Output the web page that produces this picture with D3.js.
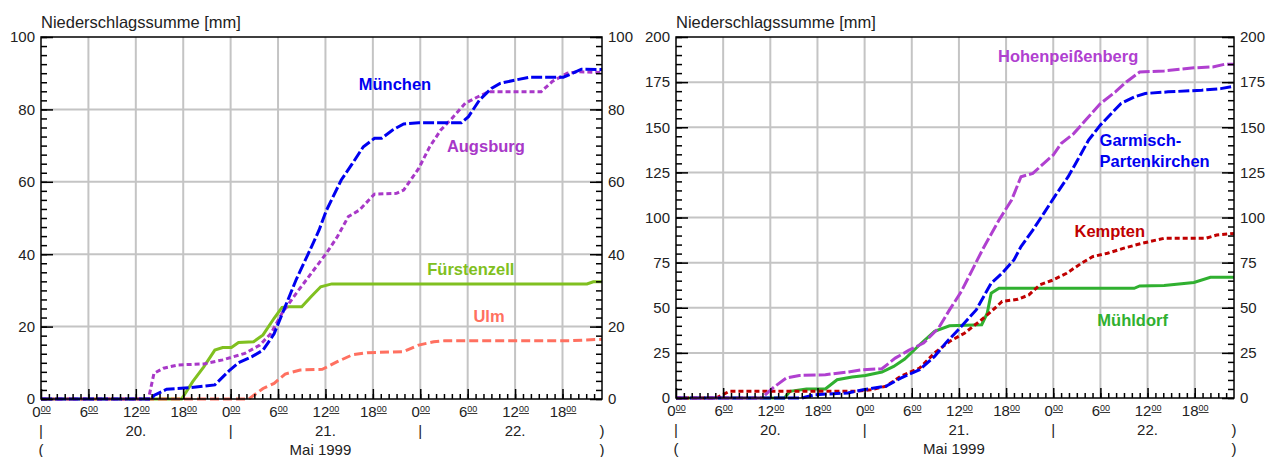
<!DOCTYPE html>
<html>
<head>
<meta charset="utf-8">
<script src="https://cdn.jsdelivr.net/npm/d3@7"></script>
<style>
  body { margin: 0; background: #fff; }
  text { font-family: "Liberation Sans", Arial, sans-serif; }
</style>
</head>
<body>
<script>
// Hours since 20 May 1999 00:00, cumulative precipitation in mm
var muenchen = [[0,0],[14,0],[14.3,1],[15.9,2.7],[18.7,3.1],[22,3.9],[23.9,8],[25,10],[26.7,11.7],[28.1,13.5],[29.5,18],
  [30.9,25.5],[32.3,33],[33.8,40],[35.2,46.7],[36.1,52],[38,60.5],[39.4,65],[40.8,69.7],[42.2,72],[43.1,72],[44.5,74.3],
  [45.9,76],[47.8,76.3],[53.2,76.3],[54.1,78],[55.5,82.6],[57,85.8],[58.1,87.2],[60,88.1],[61.9,88.9],[66.1,88.9],
  [67.3,90],[68.4,91.1],[71,91]];
var augsburg = [[0,0],[13.6,0],[14.3,7.1],[15.5,8.5],[17.3,9.4],[20.6,9.7],[23,10.8],[25.8,12.6],[27.7,14.9],[29.1,18.1],
  [30.5,23.7],[32.3,29.2],[34.2,34.7],[36.1,40.2],[37.5,44.8],[38.9,50.4],[40.3,52.2],[42.2,56.6],[45,56.8],[45.9,57.7],
  [47.8,63.7],[49.2,69.7],[50.6,74.3],[52,77.5],[53.7,81.7],[55.3,83.5],[56.7,84.9],[63.3,84.9],[64.7,87.7],[66.6,90],
  [68,90.4],[71,90.2]];
var fuerstenzell = [[0,0],[17.8,0],[19.2,4.8],[20.6,8.9],[22,13.5],[23,14.2],[24.1,14.2],[25,15.6],[26.9,15.8],[28.1,17.7],
  [29.5,22.3],[30.5,25.3],[31.4,25.5],[33,25.5],[34.2,28.3],[35.4,31],[36.8,31.8],[69.1,31.8],[69.9,32.4],[71,32.4]];
var ulm = [[0,0],[26.3,0],[28.1,2.9],[29.5,4.3],[30.9,6.9],[32.8,8],[35.6,8.2],[37.5,10.3],[39.4,12.2],[41.3,12.8],
  [45.9,13.1],[47.8,14.9],[49.7,15.8],[51.1,16.1],[67,16.1],[71,16.5]];

var hohenpeissenberg = [[0,0],[10.9,0],[12.3,5.5],[14,11],[15.7,12.5],[19,12.9],[21.9,14.4],[23.8,15.7],[26.2,16.2],
  [27.9,22.1],[29.6,26.4],[31.5,30.4],[33.4,38.7],[34.8,48.8],[36.3,59],[37.7,71],[39.1,83],[41.1,98.6],[42.7,109.7],
  [43.9,122.6],[45.4,124.4],[46.8,130],[48,134.6],[49,141],[50.6,146.5],[52.1,153.9],[54,163.1],[55.9,169.6],
  [57.3,175.1],[59,180.6],[62.1,181.2],[65.9,182.9],[68.3,183.4],[69.8,184.9],[71,184.9]];
var garmisch = [[0,0],[16,0],[17.6,1.8],[21.9,2.8],[23.8,4.6],[26.7,6.5],[28.6,11],[31,15.7],[32.9,23],[34.3,30.4],
  [36.3,39.6],[38.2,48.8],[40.1,63.6],[41.5,69.1],[43,76.5],[43.9,83.9],[45.4,93],[46.8,102.3],[48.3,112.4],[49.9,122.6],
  [51.1,131.8],[52.5,142.9],[54,151.2],[55.4,157.6],[56.6,163.1],[58.3,166.8],[59.7,168.7],[62.6,169.6],[66.9,170.5],
  [69.3,171.4],[71,172.7]];
var kempten = [[0,0],[5.1,0],[6.8,3.7],[22.9,3.7],[24.8,4.6],[26.7,6.5],[28.6,12],[31,16.6],[32.9,24.9],[34.8,31.3],
  [36.7,35.9],[38.6,42.4],[40.1,47.9],[41.5,53.5],[43.5,54.7],[44.9,57.1],[46.3,62.7],[47.8,65.1],[49.7,69.1],[51.6,74.7],
  [53,78.3],[54.9,80.2],[56.9,82.9],[59.3,85.7],[62.1,88.5],[67.4,88.5],[68.8,90.3],[71,91.2]];
var muehldorf = [[0,0],[13.8,0],[14.5,3.7],[16.6,5],[19,5],[20.5,10.1],[22.4,11.6],[24.1,12.5],[26.2,14.4],[27.7,17.5],
  [29.1,21.6],[31,29.5],[32.9,36.9],[34.8,40],[38.9,40.6],[39.6,47],[40.1,58.1],[41.1,60.8],[58.3,60.8],[59,62.1],
  [62.1,62.3],[65.9,64],[68,66.9],[71,66.9]];

// Tick labels
var hourTicks = [0, 6, 12, 18, 24, 30, 36, 42, 48, 54, 60, 66];
var dayLabels = ["20.", "21.", "22."];
var monthLabel = "Mai 1999";
var yTitle = "Niederschlagssumme [mm]";

// Step 1: chart setup for the two panels
var charts = [
  {
    left: 41, right: 602, top: 37, bottom: 399, yMax: 100, yStep: 20, yMinor: 2.5,
    series: [
      { name: "Fürstenzell", data: fuerstenzell, color: "#80c020", dash: null, label: [[54.4, 34.3, "middle"]] },
      { name: "Ulm", data: ulm, color: "#ff7060", dash: "9,4", label: [[56.7, 21.3, "middle"]] },
      { name: "Augsburg", data: augsburg, color: "#a838c8", dash: "5,3", label: [[56.3, 68.2, "middle"]] },
      { name: "München", data: muenchen, color: "#0000f0", dash: "11,3", label: [[44.8, 85.4, "middle"]] }
    ]
  },
  {
    left: 676, right: 1234, top: 37, bottom: 398, yMax: 200, yStep: 25, yMinor: 5,
    series: [
      { name: "Mühldorf", data: muehldorf, color: "#30b030", dash: null, label: [[58.1, 39.9, "middle"]] },
      { name: "Kempten", data: kempten, color: "#c00000", dash: "5,3", label: [[55.2, 89.2, "middle"]] },
      { name: "Garmisch-Partenkirchen", data: garmisch, color: "#0000f0", dash: "11,3",
        label: [[53.9, 139.6, "start", "Garmisch-"], [53.9, 128, "start", "Partenkirchen"]] },
      { name: "Hohenpeißenberg", data: hohenpeissenberg, color: "#b040d0", dash: "12,3", label: [[49.9, 186, "middle"]] }
    ]
  }
];

var svg = d3.select("body").append("svg")
  .attr("width", 1265)
  .attr("height", 457);

charts.forEach(function(c) {
  var x = d3.scaleLinear().domain([0, 71]).range([c.left, c.right]);
  var y = d3.scaleLinear().domain([0, c.yMax]).range([c.bottom, c.top]);
  var g = svg.append("g");

  // Step 2: grid
  g.selectAll(".vgrid")
    .data(hourTicks.slice(1))
    .enter().append("line")
    .attr("x1", d => x(d)).attr("x2", d => x(d))
    .attr("y1", c.top).attr("y2", c.bottom)
    .attr("stroke", "#c4c4c4").attr("stroke-width", 2);

  g.selectAll(".hgrid")
    .data(d3.range(c.yStep, c.yMax, c.yStep))
    .enter().append("line")
    .attr("x1", c.left).attr("x2", c.right)
    .attr("y1", d => y(d)).attr("y2", d => y(d))
    .attr("stroke", "#c4c4c4").attr("stroke-width", 2);

  // Step 3: lines
  var line = d3.line().x(d => x(d[0])).y(d => y(d[1]));
  c.series.forEach(function(s) {
    g.append("path")
      .datum(s.data)
      .attr("d", line)
      .attr("fill", "none")
      .attr("stroke", s.color)
      .attr("stroke-width", 3)
      .attr("stroke-dasharray", s.dash);
  });

  // Step 4: frame
  g.append("rect")
    .attr("x", c.left).attr("y", c.top)
    .attr("width", c.right - c.left).attr("height", c.bottom - c.top)
    .attr("fill", "none").attr("stroke", "#000").attr("stroke-width", 1.5);

  // Step 5: axes with minor ticks
  var minorVals = d3.range(0, c.yMax + 0.01, c.yMinor);
  var majorVals = d3.range(0, c.yMax + 0.01, c.yStep);

  function styleAxis(sel) {
    sel.select(".domain").remove();
    sel.selectAll("line").attr("stroke", "#000").attr("stroke-width", 1.5);
    sel.selectAll("text").attr("font-size", 15).attr("fill", "#222")
      .attr("font-family", "'Liberation Sans', Arial, sans-serif");
  }

  g.append("g").attr("transform", `translate(${c.left},0)`)
    .call(d3.axisLeft(y).tickValues(minorVals).tickSize(-6).tickFormat("")).call(styleAxis);
  g.append("g").attr("transform", `translate(${c.left},0)`)
    .call(d3.axisLeft(y).tickValues(majorVals).tickSize(-12).tickPadding(6)).call(styleAxis);
  g.append("g").attr("transform", `translate(${c.right},0)`)
    .call(d3.axisRight(y).tickValues(minorVals).tickSize(-6).tickFormat("")).call(styleAxis);
  g.append("g").attr("transform", `translate(${c.right},0)`)
    .call(d3.axisRight(y).tickValues(majorVals).tickSize(-12).tickPadding(6)).call(styleAxis);

  g.append("g").attr("transform", `translate(0,${c.bottom})`)
    .call(d3.axisBottom(x).tickValues(d3.range(1, 71)).tickSize(-5).tickFormat("")).call(styleAxis);
  var xAxis = g.append("g").attr("transform", `translate(0,${c.bottom})`)
    .call(d3.axisBottom(x).tickValues(hourTicks).tickSize(-10).tickPadding(5).tickFormat("")).call(styleAxis);

  // hour labels with underlined superscript 00
  xAxis.selectAll(".tick text").each(function(d) {
    var t = d3.select(this).attr("dy", null).attr("y", 18).attr("text-anchor", "middle");
    t.append("tspan").text(d % 24);
    t.append("tspan").attr("font-size", 9).attr("dy", -5)
      .attr("text-decoration", "underline").text("00");
  });

  // Step 6: date rows
  var rows = g.append("g").attr("font-size", 15).attr("fill", "#222");
  rows.selectAll(".sep")
    .data([0, 24, 48])
    .enter().append("text")
    .attr("x", d => x(d)).attr("y", c.bottom + 37)
    .attr("text-anchor", "middle")
    .text("|");
  rows.selectAll(".day")
    .data(dayLabels)
    .enter().append("text")
    .attr("x", (d, i) => x(12 + i * 24)).attr("y", c.bottom + 37)
    .attr("text-anchor", "middle")
    .text(d => d);
  rows.append("text").attr("x", x(71)).attr("y", c.bottom + 37)
    .attr("text-anchor", "middle").text(")");
  rows.append("text").attr("x", x(0)).attr("y", c.bottom + 56)
    .attr("text-anchor", "middle").text("(");
  rows.append("text").attr("x", x(36) - 5).attr("y", c.bottom + 56)
    .attr("text-anchor", "middle").text(monthLabel);
  rows.append("text").attr("x", x(71)).attr("y", c.bottom + 56)
    .attr("text-anchor", "middle").text(")");

  // Step 7: axis title
  g.append("text")
    .attr("x", c.left).attr("y", c.top - 9)
    .attr("font-size", 16.5).attr("fill", "#222")
    .text(yTitle);

  // Step 8: station labels
  c.series.forEach(function(s) {
    s.label.forEach(function(l) {
      g.append("text")
        .attr("x", x(l[0])).attr("y", y(l[1]))
        .attr("text-anchor", l[2])
        .attr("font-size", 16.5)
        .attr("font-weight", "bold")
        .attr("fill", s.color)
        .text(l[3] || s.name);
    });
  });
});
</script>
</body>
</html>
